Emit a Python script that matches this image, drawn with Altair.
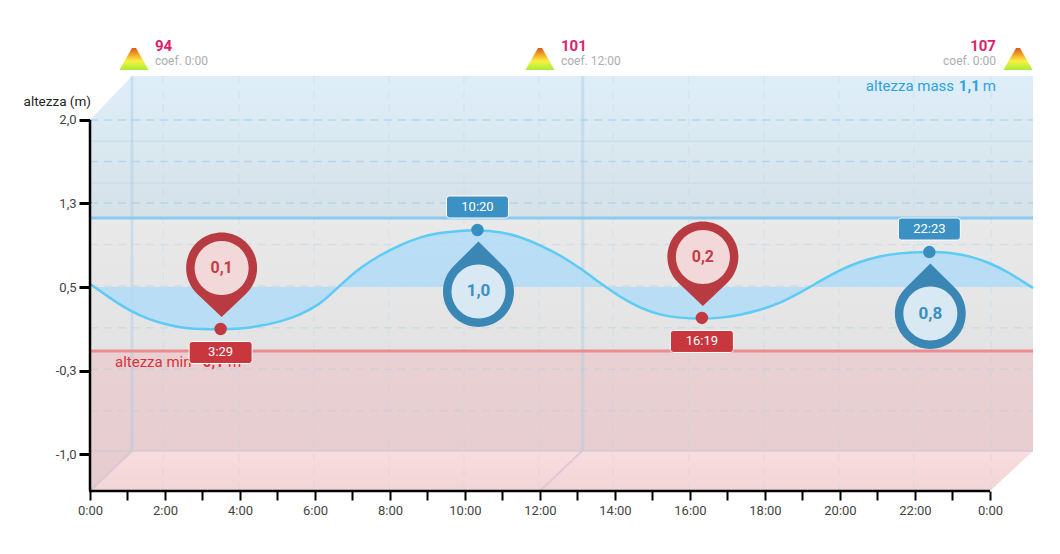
import altair as alt
import pandas as pd

FONT = "Roboto"
X_MAX, Y_MIN, Y_MAX = 25.147, -1.332, 2.395
WALL_X, WALL_Y = 1.12, -0.973
MAX_LINE, MIN_LINE = 1.12, -0.075

curve_hours = [0, 0.533, 1.067, 1.6, 2.133, 2.667, 2.933, 3.483, 4.0, 4.533, 5.067, 5.6, 6.133, 6.4, 6.667, 6.933,
               7.2, 7.733, 8.267, 8.8, 9.333, 9.867, 10.333, 10.933, 11.467, 12, 12.533, 13.067, 13.6,
               14.133, 14.667, 15.2, 15.733, 16.32, 16.8, 17.333, 17.867, 18.4, 18.933, 19.467, 20, 20.533,
               21.067, 21.6, 22.133, 22.4, 22.933, 23.467, 24, 24.533, 24.933, 25.147]
curve_values = [0.527, 0.401, 0.284, 0.204, 0.152, 0.125, 0.123, 0.12, 0.125, 0.15, 0.188, 0.248, 0.347, 0.428, 0.513, 0.594,
                0.671, 0.787, 0.877, 0.949, 0.988, 1.006, 1.012, 0.997, 0.952, 0.877, 0.787, 0.671, 0.536,
                0.410, 0.311, 0.248, 0.222, 0.214, 0.222, 0.248, 0.293, 0.356, 0.446, 0.554, 0.653, 0.729,
                0.778, 0.805, 0.814, 0.816, 0.81, 0.778, 0.716, 0.626, 0.536, 0.491]

low_hours = [3.483, 16.317]
low_values = [0.123, 0.222]
low_labels = ["0,1", "0,2"]
low_times = ["3:29", "16:19"]
high_hours = [10.333, 22.383]
high_values = [1.012, 0.814]
high_labels = ["1,0", "0,8"]
high_times = ["10:20", "22:23"]

y_ticks = [2, 1.25, 0.5, -0.25, -1]
y_tick_labels = ["2,0", "1,3", "0,5", "-0,3", "-1,0"]
x_ticks = list(range(25))
dash_hours = [1.95, 3.97, 5.97, 7.97, 9.97, 11.97, 13.95, 15.97, 17.97, 19.97, 21.97, 24.03]
dash_values_top = [2, 1.627, 1.254]
dash_values_low = [0.881, 0.508, 0.135, -0.238, -0.611]
faint_values = [1.81, 1.435]
thick_hours = [1.12, 13.14]
diag_starts = [0, 12]
coef_hours = [1.173, 12, 24.747]
coef_nums = ["94", "101", "107"]
coef_subs = ["coef. 0:00", "coef. 12:00", "coef. 0:00"]
coef_text_hours = [1.733, 12.56, 24.16]
coef_aligns = ["left", "left", "right"]

x_labels = "(datum.value % 2 == 0) ? (datum.value % 24) + ':00' : ''"
y_labels = "[" + ",".join(f"'{s}'" for s in y_tick_labels) + "][indexof([" + ",".join(str(v) for v in y_ticks) + "],datum.value)]"
X_AXIS = alt.Axis(values=x_ticks, labelExpr=x_labels, grid=False, domain=False, tickColor="#000", tickWidth=2,
                  tickSize=9, labelPadding=4, labelFont=FONT, labelFontSize=13, labelColor="#444",
                  labelOverlap=False, labelBound=False, labelFlush=False, title=None)
Y_AXIS = alt.Axis(values=y_ticks, labelExpr=y_labels, grid=False, domain=False, tickColor="#000", tickWidth=3,
                  tickSize=11, labelPadding=3, labelFont=FONT, labelFontSize=13, labelColor="#444",
                  labelOverlap=False, title=None)


def X(field="h"):
    return alt.X(f"{field}:Q", title=None, scale=alt.Scale(domain=[0, X_MAX], nice=False, zero=False), axis=X_AXIS)


def Y(field="v"):
    return alt.Y(f"{field}:Q", title=None, scale=alt.Scale(domain=[Y_MIN, Y_MAX], nice=False, zero=False), axis=Y_AXIS)


def grad(c1, c2):
    return alt.LinearGradient(gradient="linear", x1=0, x2=0, y1=0, y2=1,
                              stops=[alt.GradientStop(offset=0, color=c1), alt.GradientStop(offset=1, color=c2)])


def area(hs, tops, bottoms, c1, c2):
    d = pd.DataFrame({"h": hs, "v": tops, "v2": bottoms})
    return alt.Chart(d).mark_area(fill=grad(c1, c2), line=False, interpolate="linear", clip=False).encode(
        x=X(), y=Y(), y2="v2:Q")


def txt(h, v, s, size, color, weight="normal", align="left"):
    d = pd.DataFrame({"h": [h], "v": [v], "s": [s]})
    return alt.Chart(d).mark_text(font=FONT, fontSize=size, color=color, fontWeight=weight, align=align,
                                  baseline="middle", clip=False).encode(x=X(), y=Y(), text="s:N")


layers = []

# bands
layers.append(area([0, WALL_X, X_MAX], [2, Y_MAX, Y_MAX], [MAX_LINE] * 3, "#deeef8", "#d6e1e8"))
layers.append(area([0, X_MAX], [MAX_LINE] * 2, [MIN_LINE] * 2, "#e9e9e9", "#e3e3e3"))
layers.append(area([0, WALL_X, X_MAX], [MIN_LINE] * 3, [Y_MIN, WALL_Y, WALL_Y], "#e9d0d2", "#e6cccf"))
layers.append(area([0, WALL_X, 24, X_MAX], [Y_MIN, WALL_Y, WALL_Y, WALL_Y], [Y_MIN, Y_MIN, Y_MIN, WALL_Y],
                   "#f8dcde", "#f2d5d7"))

# grid
layers.append(alt.Chart(pd.DataFrame({"v": dash_values_top})).mark_rule(
    color="#98cff0", opacity=0.6, strokeWidth=1.5, strokeDash=[8, 6], clip=False).encode(
    x=alt.value(0), x2=alt.value(943), y=Y()))
layers.append(alt.Chart(pd.DataFrame({"v": dash_values_low})).mark_rule(
    color="#a6cde6", opacity=0.35, strokeWidth=1.5, strokeDash=[8, 6], clip=False).encode(
    x=alt.value(0), x2=alt.value(943), y=Y()))
layers.append(alt.Chart(pd.DataFrame({"v": faint_values})).mark_rule(
    color="#a9cde2", opacity=0.3, strokeWidth=1.5, clip=False).encode(
    x=alt.value(0), x2=alt.value(943), y=Y()))
v_df = pd.DataFrame({"h": dash_hours, "v": [Y_MAX] * len(dash_hours), "v2": [Y_MIN] * len(dash_hours)})
layers.append(alt.Chart(v_df).mark_rule(color="#b4d6ec", opacity=0.28, strokeWidth=1.5, strokeDash=[8, 6]).encode(
    x=X(), y=Y(), y2="v2:Q"))
t_df = pd.DataFrame({"h": thick_hours, "v": [Y_MAX] * 2, "v2": [WALL_Y] * 2})
layers.append(alt.Chart(t_df).mark_rule(color="#a9cde6", opacity=0.45, strokeWidth=3).encode(
    x=X(), y=Y(), y2="v2:Q"))
layers.append(alt.Chart(pd.DataFrame({"h": [0, X_MAX], "v": [WALL_Y] * 2})).mark_line(
    color="#d9c7d2", opacity=0.7, strokeWidth=2).encode(x=X(), y=Y()))
diag_rows = []
for s in diag_starts:
    diag_rows.append({"h": s, "v": Y_MIN, "g": s})
    diag_rows.append({"h": s + WALL_X, "v": WALL_Y, "g": s})
layers.append(alt.Chart(pd.DataFrame(diag_rows)).mark_line(color="#d5c6d2", opacity=0.8, strokeWidth=2, clip=False).encode(
    x=X(), y=Y(), detail="g:N"))

# limits
layers.append(alt.Chart(pd.DataFrame({"v": [MAX_LINE]})).mark_rule(color="#8ccaf0", strokeWidth=3).encode(
    x=alt.value(0), x2=alt.value(943), y=Y()))
layers.append(alt.Chart(pd.DataFrame({"v": [MIN_LINE]})).mark_rule(color="#ee8b8f", strokeWidth=3).encode(
    x=alt.value(0), x2=alt.value(943), y=Y()))

# curve
curve_df = pd.DataFrame({"h": curve_hours, "v": curve_values, "base": [0.5] * len(curve_hours)})
layers.append(alt.Chart(curve_df).mark_area(color="#b4dcf6", opacity=0.92, interpolate="basis").encode(
    x=X(), y=Y(), y2="base:Q"))
layers.append(alt.Chart(curve_df).mark_line(color="#5ccbf6", strokeWidth=2.5, interpolate="basis").encode(
    x=X(), y=Y()))

# axis lines
layers.append(alt.Chart(pd.DataFrame({"h": [0], "v": [2], "v2": [Y_MIN]})).mark_rule(color="#000", strokeWidth=2.5).encode(
    x=X(), y=Y(), y2="v2:Q"))
layers.append(alt.Chart(pd.DataFrame({"v": [Y_MIN]})).mark_rule(color="#000", strokeWidth=2.5).encode(
    x=alt.value(-1), x2=alt.value(900), y=Y()))

# annotations
layers.append(txt(0.667, -0.174, "altezza min", 15, "#d9323c"))
layers.append(txt(2.85, -0.174, "-0,1", 15, "#d9323c", "bold"))
layers.append(txt(3.68, -0.174, "m", 15, "#d9323c"))
layers.append(txt(20.69, 2.305, "altezza mass", 15, "#2ba3dc"))
layers.append(txt(23.17, 2.305, "1,1", 15, "#2ba3dc", "bold"))
layers.append(txt(23.81, 2.305, "m", 15, "#2ba3dc"))
layers.append(txt(0.027, 2.162, "altezza (m)", 13.5, "#222", align="right"))

tri = "M-14.5,11 L-2,-11 L2,-11 L14.5,11 Z"
tri_fill = alt.LinearGradient(gradient="linear", x1=0, x2=0, y1=0, y2=1, stops=[
    alt.GradientStop(offset=0, color="#d9581c"), alt.GradientStop(offset=0.3, color="#f2a528"),
    alt.GradientStop(offset=0.6, color="#f8f03f"), alt.GradientStop(offset=1, color="#a8ec3a")])
layers.append(alt.Chart(pd.DataFrame({"h": coef_hours, "v": [2.548] * 3})).mark_point(
    shape=tri, size=4, filled=True, fill=tri_fill, opacity=1, strokeWidth=0, clip=False).encode(x=X(), y=Y()))
for h, n, s, a in zip(coef_text_hours, coef_nums, coef_subs, coef_aligns):
    layers.append(txt(h, 2.665, n, 15, "#dc1f6a", "bold", a))
    layers.append(txt(h, 2.53, s, 12, "#adadad", "normal", a))


def shape_layer(hs, vs, path, fill, stroke=None):
    d = pd.DataFrame({"h": hs, "v": vs})
    kw = dict(shape=path, size=4, filled=True, fill=fill, opacity=1, clip=False)
    if stroke:
        kw.update(stroke=stroke, strokeWidth=1)
    else:
        kw.update(strokeWidth=0)
    return alt.Chart(d).mark_point(**kw).encode(x=X(), y=Y())


def label_layer(hs, vs, labels, dy, size, color, weight, dx=0):
    d = pd.DataFrame({"h": hs, "v": vs, "s": labels})
    return alt.Chart(d).mark_text(font=FONT, fontSize=size, color=color, fontWeight=weight, dy=dy, dx=dx,
                                  baseline="middle", align="center", clip=False).encode(x=X(), y=Y(), text="s:N")


RED_PIN, RED_INNER, RED_TXT, RED_BOX = "#b83b41", "#f3d8d9", "#c43c44", "#c8363e"
BLUE_PIN, BLUE_INNER, BLUE_TXT, BLUE_BOX = "#3a87b5", "#d8e9f3", "#3b8fc2", "#3b90c4"

red_pin = "M1,-12 L25.5,-35.3 A35.5,35.5 0 1 0 -23.5,-35.3 Z"
red_inner = "M-26,-61 A27,27 0 1 0 28,-61 A27,27 0 1 0 -26,-61 Z"
red_box = "M-28.5,12.5 L28.5,12.5 Q31.5,12.5 31.5,15.5 L31.5,31.5 Q31.5,34.5 28.5,34.5 L-28.5,34.5 Q-31.5,34.5 -31.5,31.5 L-31.5,15.5 Q-31.5,12.5 -28.5,12.5 Z"
blue_pin = "M1,11.5 L26,36.3 A35.5,35.5 0 1 1 -24,36.3 Z"
blue_inner = "M-26,61.5 A27,27 0 1 0 28,61.5 A27,27 0 1 0 -26,61.5 Z"
blue_box = "M-28,-34 L28,-34 Q31,-34 31,-31 L31,-15 Q31,-12 28,-12 L-28,-12 Q-31,-12 -31,-15 L-31,-31 Q-31,-34 -28,-34 Z"

layers.append(shape_layer(low_hours, low_values, red_pin, RED_PIN))
layers.append(shape_layer(low_hours, low_values, red_inner, RED_INNER))
layers.append(shape_layer(low_hours, low_values, red_box, RED_BOX, "#ffffff"))
layers.append(alt.Chart(pd.DataFrame({"h": low_hours, "v": low_values})).mark_point(
    shape="circle", size=154, filled=True, color="#c13a42", opacity=1).encode(x=X(), y=Y()))
layers.append(label_layer(low_hours, low_values, low_labels, -61, 16, RED_TXT, "bold", 1))
layers.append(label_layer(low_hours, low_values, low_times, 23.5, 13, "#ffffff", "normal"))

layers.append(shape_layer(high_hours, high_values, blue_pin, BLUE_PIN))
layers.append(shape_layer(high_hours, high_values, blue_inner, BLUE_INNER))
layers.append(shape_layer(high_hours, high_values, blue_box, BLUE_BOX, "#ffffff"))
layers.append(alt.Chart(pd.DataFrame({"h": high_hours, "v": high_values})).mark_point(
    shape="circle", size=154, filled=True, color="#3a8ebf", opacity=1).encode(x=X(), y=Y()))
layers.append(label_layer(high_hours, high_values, high_labels, 61.5, 17, BLUE_TXT, "bold", 1))
layers.append(label_layer(high_hours, high_values, high_times, -23, 13, "#ffffff", "normal"))

chart = alt.layer(*layers).properties(
    width=943, height=415,
    padding={"left": 82, "top": 68, "right": 19, "bottom": 55},
    autosize=alt.AutoSizeParams(type="none"),
    background="#ffffff",
).configure_view(stroke=None)

chart.save("out.html", embed_options={"renderer": "svg", "actions": False})
